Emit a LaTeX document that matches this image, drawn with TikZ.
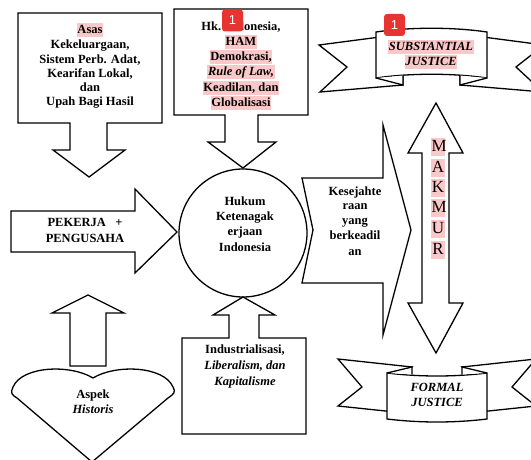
\documentclass[tikz,border=0pt]{standalone}
\usepackage{fontspec}
\setmainfont{Liberation Serif}
\setsansfont{Liberation Sans}
\definecolor{hlpink}{RGB}{250,200,200}
\definecolor{badgered}{RGB}{232,52,48}
\begin{document}
\begin{tikzpicture}[x=1pt,y=-1pt,
  outline/.style={draw=black, fill=white, line width=1.3pt, line join=miter},
  txt/.style={font=\fontsize{12.5}{15}\selectfont\bfseries, align=center, inner sep=0.6pt, text height=9.8pt, text depth=3pt},
  hl/.style={fill=hlpink},
  big/.style={font=\fontsize{17}{20}\selectfont, inner sep=0.5pt, text height=13pt, text depth=3.5pt, text width=13pt, align=center, fill=hlpink},
  badge/.style={fill=badgered, rounded corners=3pt, minimum width=21pt, minimum height=22pt, inner sep=0pt, text=white, font=\sffamily\fontsize{13}{13}\selectfont}]
\useasboundingbox (0,0) rectangle (531,460);
\clip (0,0) rectangle (531,460);

% Box 1: Asas
\draw[outline] (18,13) -- (162,13) -- (162,123) -- (107,123) -- (107,150) -- (125,150) -- (89,177) -- (53,150) -- (70,150) -- (70,123) -- (18,123) -- cycle;
\node[txt,hl] (asas) at (90,30) {Asas};
\node[txt] (a1) at (90,45) {Kekeluargaan,};
\node[txt] (a2) at (90,60) {Sistem Perb. Adat,};
\node[txt] (a3) at (90,74) {Kearifan Lokal,};
\node[txt] (a4) at (90,88) {dan};
\node[txt] (a5) at (90,102) {Upah Bagi Hasil};

% Box 2: Hk. Indonesia
\draw[outline] (174,9) -- (308,9) -- (308,115) -- (258,115) -- (258,142) -- (276,142) -- (243,168) -- (208,142) -- (225,142) -- (225,115) -- (174,115) -- cycle;
\node[txt] (b1) at (241,27) {Hk. Indonesia,};
\node[txt,hl] (b2) at (241,42) {HAM};
\node[txt,hl] (b3) at (241,57) {Demokrasi,};
\node[txt,hl] (b4) at (241,72) {\itshape Rule of Law,};
\node[txt,hl] (b5) at (241,88) {Keadilan, dan};
\node[txt,hl] (b6) at (241,103) {Globalisasi};

% Circle
\node[draw=black, line width=1.3pt, fill=white, circle, minimum size=128pt, inner sep=0pt] (hk) at (243,233) {};
\node[txt] (c1) at (245,202) {Hukum};
\node[txt] (c2) at (245,217) {Ketenagak};
\node[txt] (c3) at (245,232) {erjaan};
\node[txt] (c4) at (245,248) {Indonesia};

% Pekerja arrow
\draw[outline] (11,211) -- (135,211) -- (135,189) -- (177,232) -- (135,273) -- (135,252) -- (11,252) -- cycle;
\node[txt] (p1) at (85,223) {PEKERJA\ \ \ +};
\node[txt] (p2) at (85,239) {PENGUSAHA};

% Bottom box
\draw[outline] (182,338) -- (229,338) -- (229,315) -- (213,315) -- (243,297) -- (275,315) -- (259,315) -- (259,338) -- (306,338) -- (306,434) -- (182,434) -- cycle;
\node[txt] (i1) at (245,350) {Industrialisasi,};
\node[txt] (i2) at (245,366) {\itshape Liberalism, dan};
\node[txt] (i3) at (245,382) {\itshape Kapitalisme};

% Up arrow and heart
\draw[outline] (70,366) -- (70,313) -- (52,313) -- (88,295) -- (124,313) -- (106,313) -- (106,366) -- cycle;
\draw[outline] (93,378) .. controls (70,364) and (22,366) .. (13,387)
  .. controls (10,393) and (12,395) .. (17,398) -- (92,462) -- (168,398)
  .. controls (174,394) and (176,392) .. (173,387)
  .. controls (164,366) and (116,364) .. (93,378) -- cycle;
\node[txt] (h1) at (93,395) {Aspek};
\node[txt] (h2) at (93,410) {\itshape Historis};

% Kesejahteraan arrow
\draw[outline] (302,178) -- (383,178) -- (383,125) -- (411,230) -- (383,335) -- (383,283) -- (302,283) -- (313,230) -- cycle;
\node[txt] (k1) at (355,192) {Kesejahte};
\node[txt] (k2) at (355,206) {raan};
\node[txt] (k3) at (355,221) {yang};
\node[txt] (k4) at (355,236) {berkeadil};
\node[txt] (k5) at (355,252) {an};

% Double arrow MAKMUR
\draw[outline] (436,103) -- (463,153) -- (449,153) -- (449,303) -- (463,303) -- (436,353) -- (408,303) -- (422,303) -- (422,153) -- (408,153) -- cycle;
\node[big] (m1) at (438,147) {M};
\node[big] (m2) at (438,168) {A};
\node[big] (m3) at (438,188) {K};
\node[big] (m4) at (438,208) {M};
\node[big] (m5) at (438,229) {U};
\node[big] (m6) at (438,250) {R};

% Substantial justice banner
\draw[outline] (380,37) -- (319,45) -- (347,67) -- (320,92) -- (403,85) -- (403,70) -- cycle;
\draw[outline] (483,37) -- (544,45) -- (516,67) -- (543,92) -- (460,85) -- (460,70) -- cycle;
\draw[outline] (376,32) .. controls (410,27) and (453,27) .. (487,32) -- (487,78) .. controls (453,73) and (410,73) .. (376,78) -- cycle;
\draw[outline] (376,78) -- (403,85) -- (403,75.5);
\draw[outline] (487,78) -- (460,85) -- (460,75.5);
\node[txt,hl] (s1) at (431,47) {\itshape SUBSTANTIAL};
\node[txt,hl] (s2) at (431,62) {\itshape JUSTICE};

% Formal justice banner
\draw[outline] (412,367) -- (338,359) -- (362,387) -- (338,406) -- (395,412) -- (395,380) -- cycle;
\draw[outline] (462,367) -- (536,359) -- (512,387) -- (536,406) -- (479,412) -- (479,380) -- cycle;
\draw[outline] (387,373) .. controls (420,377) and (454,377) .. (487,373) -- (487,419) .. controls (454,423) and (420,423) .. (387,419) -- cycle;
\draw[outline] (387,373) -- (412,367) -- (412,374.5);
\draw[outline] (487,373) -- (462,367) -- (462,374.5);
\node[txt] (f1) at (437,388) {\itshape FORMAL};
\node[txt] (f2) at (437,403) {\itshape JUSTICE};

% Badges
\node[badge] (bd1) at (232.5,20.5) {1};
\node[badge] (bd2) at (394.5,25) {1};
\end{tikzpicture}
\end{document}
